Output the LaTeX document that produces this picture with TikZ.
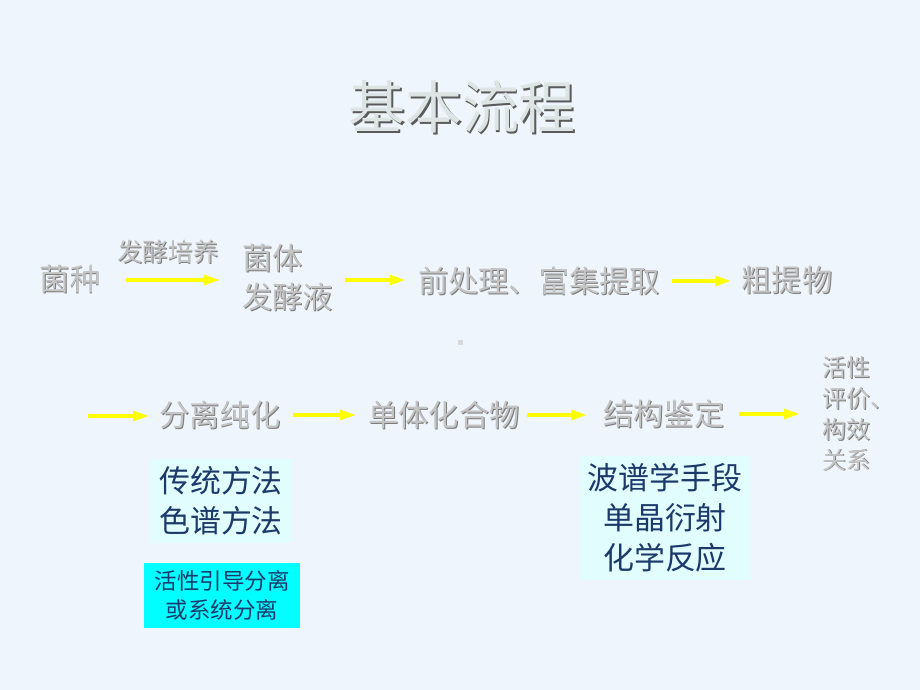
\documentclass[tikz,border=0pt]{standalone}
\usepackage{fontspec}
\setmainfont{Noto Sans CJK SC}
\usetikzlibrary{arrows.meta,positioning}
\definecolor{slidebg}{HTML}{EEF5FC}
\definecolor{embfill}{HTML}{C4C4C4}
\definecolor{embdark}{HTML}{7C7C7C}
\definecolor{titlefill}{HTML}{DCE4E4}
\definecolor{titledark}{HTML}{5A5A5A}
\definecolor{boxlight}{HTML}{E2FDFD}
\definecolor{boxcyan}{HTML}{00FFFF}
\definecolor{navy}{HTML}{1B3A6B}
\definecolor{flowyellow}{HTML}{FFFF00}
% embossed grey text: dark copy shifted down-right, light copy on top
\newcommand\emb[2][0.7pt]{\makebox[0pt][l]{\hspace{#1}\raisebox{-#1}{\textcolor{embdark}{#2}}}\textcolor{embfill}{#2}}
\tikzset{
  stage/.style={inner sep=0pt, font=\fontsize{21.5}{27.7}\selectfont},
  smallstage/.style={inner sep=0pt, font=\fontsize{17}{22}\selectfont},
  notebox/.style={fill=boxlight, text=navy, align=center, inner sep=0pt, font=\fontsize{22}{28.4}\selectfont},
  flow/.style={draw=flowyellow, line width=2.6pt, -{Triangle[length=0.4cm,width=0.24cm]}, shorten <=0.3cm, shorten >=0.3cm}
}

\begin{document}
\begin{tikzpicture}[x=0.025cm, y=-0.025cm]
			%%%%% START %%%%%
			
			\fill[slidebg] (0,0) rectangle (920,690);
			\useasboundingbox (0,0) rectangle (920,690);
			
			\node[inner sep=0pt, font=\fontsize{40.5}{48}\selectfont] (title) at (462,108) {\colorlet{embfill}{titlefill}\colorlet{embdark}{titledark}\emb[1.4pt]{基本流程}};
			
			% first row
			\node[stage] (zhong) at (70,280) {\emb{菌种}};
			\node[inner sep=0pt, font=\fontsize{18}{22}\selectfont] (peiyang) at (168,252) {\emb{发酵培养}};
			\node[stage, anchor=west, align=left] (junti) at (242,278) {\emb{菌体}\\\emb{发酵液}};
			\node[stage] (tiqu) at (539,281) {\emb{前处理、富集提取}};
			\node[stage] (cuti) at (787,281) {\emb{粗提物}};
			
			\draw[flow, shorten <=0.625cm, shorten >=0.55cm] (zhong.east) -- (zhong.east -| junti.west);
			\draw[flow] (junti.east |- zhong.east) -- (zhong.east -| tiqu.west);
			\draw[flow, shorten >=0.25cm] (tiqu.east) -- (tiqu.east -| cuti.west);
			
			\fill[black!15] (457.5,339.5) rectangle (462.5,344.5);
			
			% second row
			\coordinate (rowstart) at (88,416);
			\node[stage] (fenli) at (220,415) {\emb{分离纯化}};
			\node[stage] (danti) at (444,415) {\emb{单体化合物}};
			\node[stage] (jianding) at (664,414) {\emb{结构鉴定}};
			\node[smallstage, anchor=west, align=left] (huoxing) at (822,414) {\emb{活性}\\\emb{评价、}\\\emb{构效}\\\emb{关系}};
			
			\draw[flow, shorten <=0pt, shorten >=0.25cm] (rowstart) -- (rowstart -| fenli.west);
			\draw[flow] (fenli.east) -- (fenli.east -| danti.west);
			\draw[flow, shorten <=0.175cm, shorten >=0.4cm] (danti.east) -- (danti.east -| jianding.west);
			\draw[flow, shorten <=0.35cm, shorten >=0.55cm] (jianding.east) -- (jianding.east -| huoxing.west);
			
			% methods
			\node[notebox, minimum width=3.55cm, minimum height=2.075cm] (chuantong) at (221,501) {传统方法\\色谱方法};
			\node[notebox, fill=boxcyan, font=\fontsize{16}{20.6}\selectfont, minimum width=3.9cm, minimum height=1.625cm] (yindao) at (222,595.5) {活性引导分离\\或系统分离};
			\node[notebox, minimum width=4.25cm, minimum height=3.075cm] (bopu) at (665,518) {波谱学手段\\单晶衍射\\化学反应};
			
			%%%%% END %%%%%
\end{tikzpicture}
\end{document}
